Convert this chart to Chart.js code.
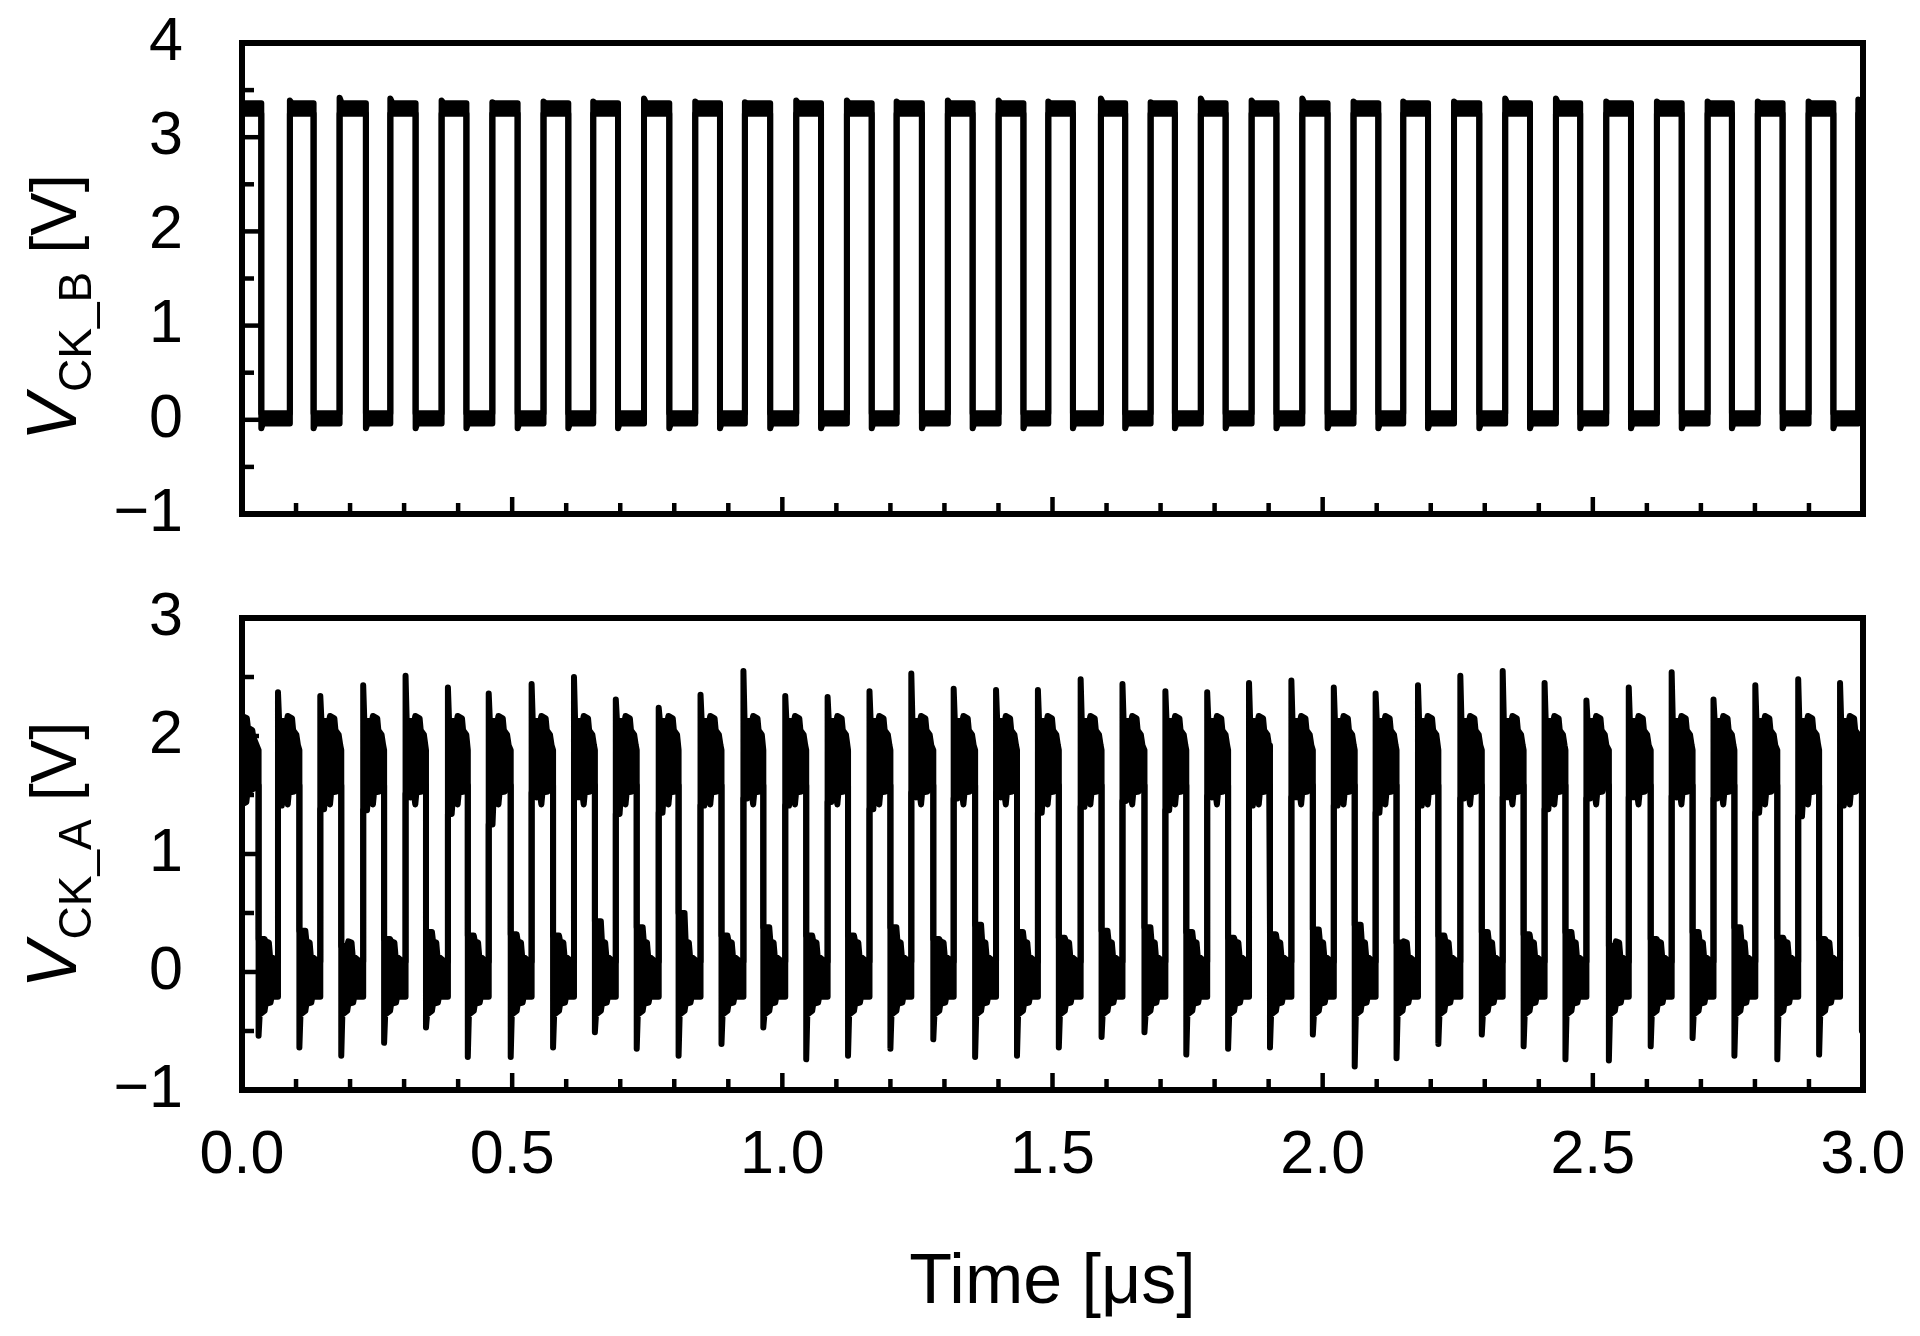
<!DOCTYPE html>
<html><head><meta charset="utf-8">
<script src="https://cdn.jsdelivr.net/npm/chart.js"></script>
<style>
html,body{margin:0;padding:0;background:#fff;}
#wrap{position:relative;width:1920px;height:1336px;}
canvas{position:absolute;left:0;}
</style>
</head><body>
<div id="wrap">
<canvas id="cB" width="1920" height="560" style="top:0px;width:1920px;height:560px"></canvas>
<canvas id="cA" width="1920" height="776" style="top:560px;width:1920px;height:776px"></canvas>
</div>
<script>
// ---------- axis tick labels ----------
const timeTickLabels = [0.0, 0.5, 1.0, 1.5, 2.0, 2.5, 3.0];
const ckbTickLabels = [-1, 0, 1, 2, 3, 4];
const ckaTickLabels = [-1, 0, 1, 2, 3];

// ---------- V_CK_B (top) : edge times [us] and levels [V] ----------
const ckbFall = [0.0357,0.1325,0.2293,0.3213,0.4153,0.5101,0.6039,0.6959,0.7908,0.8846,0.9775,1.0716,1.1654,1.2583,1.3522,1.4462,1.5378,1.6345,1.7265,1.8204,1.9144,2.0091,2.1030,2.1950,2.2899,2.3837,2.4766,2.5706,2.6645,2.7574,2.8512,2.9452];
const ckbRise = [0.0886,0.1806,0.2745,0.3694,0.4633,0.5580,0.6500,0.7440,0.8388,0.9307,1.0257,1.1195,1.2115,1.3063,1.4003,1.4922,1.5896,1.6816,1.7745,1.8685,1.9623,2.0571,2.1491,2.2431,2.3378,2.4317,2.5248,2.6186,2.7124,2.8053,2.8993,2.9913];
const ckbPeak = [3.39,3.42,3.41,3.39,3.37,3.38,3.38,3.41,3.38,3.37,3.39,3.39,3.38,3.39,3.39,3.38,3.41,3.37,3.41,3.39,3.41,3.38,3.38,3.38,3.41,3.41,3.38,3.38,3.38,3.38,3.38,3.40];
const ckbHighBand = [3.25, 3.36];   // [lower, upper] envelope of the high state
const ckbLowBand = [-0.04, 0.07];   // [lower, upper] envelope of the low state
const ckbUndershoot = -0.09;

// ---------- V_CK_A (bottom) ----------
const ckaFall = [0.0307,0.1062,0.1837,0.2630,0.3405,0.4179,0.4973,0.5757,0.6531,0.7305,0.8080,0.8874,0.9648,1.0442,1.1216,1.2000,1.2794,1.3568,1.4343,1.5117,1.5908,1.6702,1.7476,1.8250,1.9025,1.9818,2.0593,2.1367,2.2141,2.2945,2.3719,2.4493,2.5297,2.6071,2.6846,2.7620,2.8414,2.9188,2.9980];
const ckaRise = [0.0666,0.1449,0.2243,0.3027,0.3811,0.4566,0.5360,0.6144,0.6918,0.7712,0.8486,0.9280,1.0054,1.0838,1.1613,1.2387,1.3171,1.3955,1.4730,1.5521,1.6295,1.7089,1.7863,1.8637,1.9421,2.0206,2.0980,2.1764,2.2548,2.3332,2.4107,2.4881,2.5665,2.6459,2.7233,2.8007,2.8801,2.9575];
const ckaPeak = [2.37,2.34,2.43,2.51,2.41,2.36,2.44,2.50,2.31,2.24,2.35,2.55,2.34,2.33,2.38,2.53,2.40,2.39,2.39,2.48,2.44,2.38,2.37,2.45,2.47,2.41,2.36,2.43,2.51,2.55,2.45,2.30,2.41,2.54,2.31,2.43,2.48,2.45];
const ckaDip = [-0.54,-0.64,-0.71,-0.60,-0.47,-0.72,-0.72,-0.64,-0.51,-0.65,-0.71,-0.61,-0.47,-0.74,-0.71,-0.65,-0.57,-0.72,-0.71,-0.64,-0.55,-0.51,-0.70,-0.65,-0.64,-0.53,-0.80,-0.73,-0.61,-0.53,-0.63,-0.74,-0.75,-0.63,-0.56,-0.71,-0.74,-0.70,-0.50];
const ckaHighBottom = [1.41,1.38,1.37,1.51,1.34,1.25,1.52,1.48,1.34,1.35,1.41,1.47,1.41,1.44,1.38,1.52,1.47,1.52,1.35,1.40,1.45,1.37,1.49,1.41,1.48,1.41,1.35,1.41,1.47,1.48,1.38,1.47,1.48,1.49,1.47,1.35,1.32,1.41];
const ckaLowTop = [0.28,0.35,0.22,0.28,0.34,0.31,0.32,0.31,0.43,0.38,0.50,0.31,0.38,0.31,0.31,0.38,0.28,0.40,0.34,0.29,0.35,0.38,0.34,0.29,0.32,0.36,0.40,0.25,0.31,0.34,0.32,0.34,0.22,0.28,0.34,0.38,0.29,0.28,0.30];
const ckaHighEnd = [1.58, 1.88];  // [lower, upper] envelope just before a falling edge
const ckaLowEnd = [-0.21, 0.09];  // [lower, upper] envelope just before a rising edge
// envelope profile of one cycle: [time after edge (us), V] (null = per-cycle value)
const ckaHighUpperShape = [[0.002,2.14],[0.016,2.12],[0.018,2.17],[0.026,2.15],[0.028,2.05],[0.034,2.01],[0.037,1.92]];
const ckaHighLowerShape = [[0.007,null],[0.009,1.48],[0.016,1.49],[0.018,1.42],[0.020,1.52],[0.030,1.53],[0.032,1.58]];
const ckaLowUpperShape = [[0.011,null],[0.013,0.26],[0.019,0.25],[0.021,0.14],[0.034,0.09]];
const ckaLowLowerShape = [[0.002,-0.36],[0.011,-0.33],[0.013,-0.27],[0.022,-0.26],[0.024,-0.21]];
const ckaStartUpper = [[0,2.17],[0.009,2.15],[0.011,2.07],[0.019,2.05],[0.021,1.99]];
const ckaStartLower = [[0,1.42],[0.008,1.44],[0.010,1.52],[0.020,1.55]];

// ---------- build envelopes ----------
function buildCkb() {
  const up = [{x:0, y:ckbHighBand[1]}], lo = [{x:0, y:ckbHighBand[0]}];
  for (let i = 0; i < ckbFall.length; i++) {
    const f = ckbFall[i], r = ckbRise[i];
    up.push({x:f, y:ckbHighBand[1]}, {x:f, y:ckbLowBand[1]}, {x:r, y:ckbLowBand[1]}, {x:r, y:ckbPeak[i]}, {x:r+0.004, y:ckbHighBand[1]});
    lo.push({x:f, y:ckbHighBand[0]}, {x:f, y:ckbUndershoot}, {x:f+0.003, y:ckbLowBand[0]}, {x:r, y:ckbLowBand[0]}, {x:r, y:ckbHighBand[0]});
  }
  up.push({x:3, y:ckbHighBand[1]}); lo.push({x:3, y:ckbHighBand[0]});
  return [up, lo];
}
function addShape(arr, t0, tEnd, shape, override) {
  for (const [dt, v] of shape) {
    const t = t0 + dt;
    if (t >= tEnd - 0.0008) break;
    arr.push({x: t, y: v === null ? override : v});
  }
}
function buildCka() {
  const up = [], lo = [];
  addShape(up, 0, ckaFall[0], ckaStartUpper, null);
  addShape(lo, 0, ckaFall[0], ckaStartLower, null);
  for (let i = 0; i < ckaFall.length; i++) {
    const f = ckaFall[i];
    const r = i < ckaRise.length ? ckaRise[i] : 3.0;
    up.push({x:f, y:ckaHighEnd[1]}, {x:f, y:ckaLowTop[i]});
    lo.push({x:f, y:ckaHighEnd[0]}, {x:f, y:ckaDip[i]});
    addShape(up, f, r, ckaLowUpperShape, ckaLowTop[i]);
    addShape(lo, f, r, ckaLowLowerShape, null);
    if (i < ckaRise.length) {
      const nf = ckaFall[i+1];
      up.push({x:r, y:ckaLowEnd[1]}, {x:r, y:ckaPeak[i]});
      lo.push({x:r, y:ckaLowEnd[0]}, {x:r, y:ckaHighBottom[i]});
      addShape(up, r, nf, ckaHighUpperShape, null);
      addShape(lo, r, nf, ckaHighLowerShape, ckaHighBottom[i]);
    } else {
      up.push({x:3, y:ckaLowTop[i]}); lo.push({x:3, y:-0.45});
    }
  }
  return [up, lo];
}

// ---------- plugins ----------
const FONT = "'Liberation Sans', Arial, Helvetica, sans-serif";
Chart.defaults.font.family = FONT;
Chart.defaults.color = '#000';

const frameTicks = {
  id: 'frameTicks',
  afterDraw(chart) {
    const {ctx, chartArea: a, scales} = chart;
    const xs = scales.x, ys = scales.y;
    ctx.save();
    ctx.strokeStyle = '#000';
    ctx.lineCap = 'butt';
    ctx.lineWidth = 4.5;
    for (let k = 1; k < 30; k++) {
      const px = xs.getPixelForValue(k / 10);
      const len = (k % 5 === 0) ? 17 : 11;
      ctx.beginPath(); ctx.moveTo(px, a.bottom); ctx.lineTo(px, a.bottom - len); ctx.stroke();
    }
    for (let v = ys.min + 0.5; v < ys.max - 0.01; v += 0.5) {
      const py = ys.getPixelForValue(v);
      const len = (Math.abs(v - Math.round(v)) < 0.01) ? 17 : 12;
      ctx.beginPath(); ctx.moveTo(a.left, py); ctx.lineTo(a.left + len, py); ctx.stroke();
    }
    ctx.lineWidth = 6;
    ctx.lineJoin = 'miter';
    ctx.strokeRect(a.left, a.top, a.right - a.left, a.bottom - a.top);
    ctx.restore();
  }
};

const yTitle = {
  id: 'yTitle',
  afterDraw(chart, args, o) {
    const {ctx, chartArea: a} = chart;
    const cy = (a.top + a.bottom) / 2 + o.shift;
    ctx.save();
    ctx.translate(o.baseX, cy);
    ctx.rotate(-Math.PI / 2);
    ctx.fillStyle = '#000';
    ctx.textBaseline = 'alphabetic';
    ctx.textAlign = 'left';
    const fMain = 'italic 70px ' + FONT, fSub = '46px ' + FONT, fUnit = '65px ' + FONT;
    ctx.font = fMain; const w1 = ctx.measureText(o.main).width;
    ctx.font = fSub; const w2 = ctx.measureText(o.sub).width;
    ctx.font = fUnit; const w3 = ctx.measureText(o.unit).width;
    let x = -(w1 + w2 + w3) / 2;
    ctx.font = fMain; ctx.fillText(o.main, x, 0); x += w1 + 2;
    ctx.font = fSub; ctx.fillText(o.sub, x, o.subDrop); x += w2;
    ctx.font = fUnit; ctx.fillText(o.unit, x, 0);
    ctx.restore();
  }
};

function fmtV(v) { return v < 0 ? '\u2212' + Math.abs(v) : String(v); }

function makeChart(canvas, env, yMin, yMax, yTicks, opts) {
  const [up, lo] = env;
  return new Chart(canvas, {
    type: 'line',
    data: {
      datasets: [
        {data: up, borderColor: '#000', borderWidth: 6, pointRadius: 0, fill: false, tension: 0,
         borderJoinStyle: 'round', borderCapStyle: 'round'},
        {data: lo, borderColor: '#000', borderWidth: 6, pointRadius: 0, fill: '-1', backgroundColor: '#000', tension: 0,
         borderJoinStyle: 'round', borderCapStyle: 'round'}
      ]
    },
    options: {
      responsive: false, animation: false, devicePixelRatio: 1,
      parsing: false, normalized: true,
      layout: {padding: {left: 0, top: opts.padTop, right: 57, bottom: 0}},
      plugins: {legend: {display: false}, tooltip: {enabled: false},
        yTitle: opts.title},
      scales: {
        x: {
          type: 'linear', min: 0, max: 3,
          grid: {display: false, drawTicks: false}, border: {display: false},
          afterBuildTicks: (s) => { s.ticks = timeTickLabels.map(v => ({value: v})); },
          ticks: {display: opts.showX, font: {size: 61}, padding: opts.xPad, maxRotation: 0, autoSkip: false,
                  callback: (v) => Number(v).toFixed(1)},
          title: {display: opts.showX, text: 'Time [\u03bcs]', font: {size: 70}, padding: {top: 0, bottom: opts.titlePad}},
          afterFit: (s) => { s.height = opts.xHeight; s.paddingLeft = 0; s.paddingRight = 0; }
        },
        y: {
          type: 'linear', min: yMin, max: yMax,
          grid: {display: false, drawTicks: false}, border: {display: false},
          afterBuildTicks: (s) => { s.ticks = yTicks.map(v => ({value: v})); },
          ticks: {font: {size: 61}, padding: 59, callback: (v) => fmtV(v)},
          afterFit: (s) => { s.width = 242; s.paddingTop = 0; s.paddingBottom = 0; }
        }
      }
    },
    plugins: [frameTicks, yTitle]
  });
}

makeChart(document.getElementById('cB'), buildCkb(), -1, 4, ckbTickLabels,
  {padTop: 43, xHeight: 46, showX: false, xPad: 0, titlePad: 0,
   title: {main: 'V', sub: 'CK_B', unit: ' [V]', baseX: 76, shift: 30, subDrop: 15}});
makeChart(document.getElementById('cA'), buildCka(), -1, 3, ckaTickLabels,
  {padTop: 58, xHeight: 246, showX: true, xPad: 30, titlePad: 10,
   title: {main: 'V', sub: 'CK_A', unit: ' [V]', baseX: 76, shift: 2, subDrop: 15}});
</script>
</body></html>
